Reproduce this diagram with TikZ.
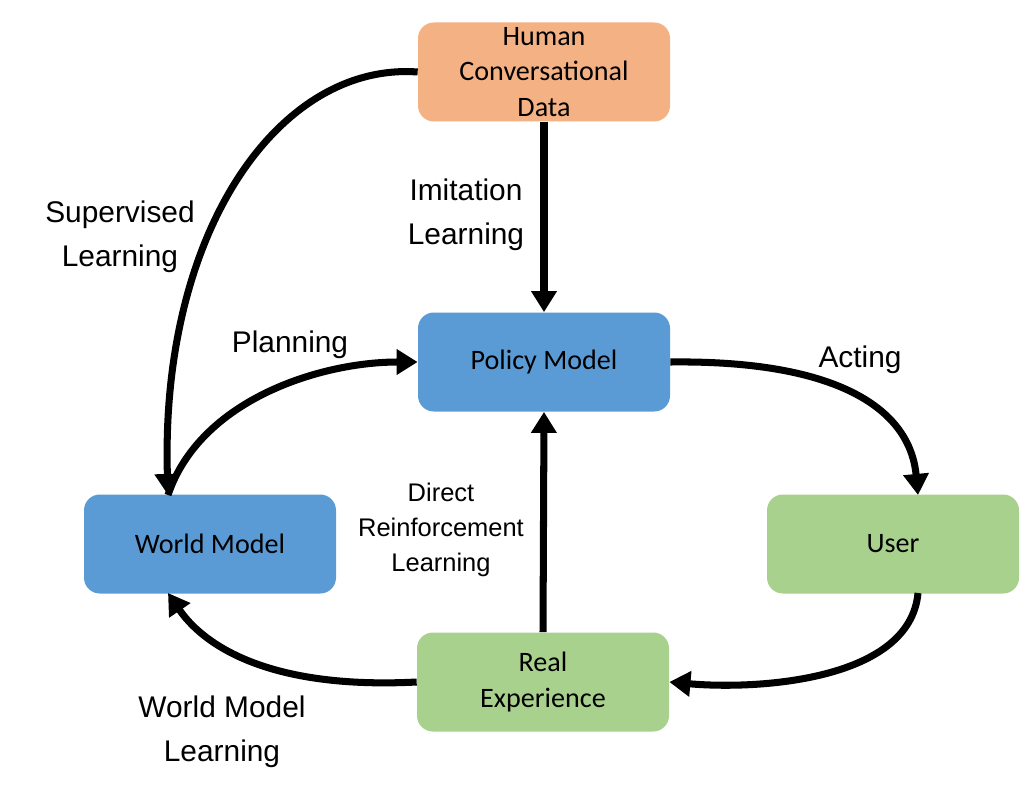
\documentclass[tikz,border=0pt]{standalone}
\usepackage{fontspec}
\setmainfont{Liberation Sans}
\newfontfamily\calib{Carlito}
\usetikzlibrary{arrows.meta}
\definecolor{orng}{HTML}{F4B183}
\definecolor{blu}{HTML}{5B9BD5}
\definecolor{grn}{HTML}{A9D18E}
\begin{document}
\begin{tikzpicture}[x=0.02cm,y=-0.02cm,
  box/.style={rounded corners=9pt,minimum width=252*0.02cm,minimum height=99*0.02cm,align=center,font=\calib\fontsize{16}{20}\selectfont,inner sep=1pt},
  arr/.style={line width=4pt,-{Triangle[length=12pt,width=14pt]}},
  lab/.style={align=center,font=\fontsize{17}{25}\selectfont}]
\useasboundingbox (0,0) rectangle (1020,797);
\node[box,fill=orng] (h) at (544,72) {Human\\Conversational\\Data};
\node[box,fill=blu] (p) at (544,362) {Policy Model};
\node[box,fill=blu] (w) at (210,544) {World Model};
\node[box,fill=grn] (u) at (893,544) {User};
\node[box,fill=grn] (r) at (543,682) {Real\\Experience};
\draw[arr] (h.south) -- (p.north);
\draw[arr] (h.west) .. controls (280,62) and (160,230) .. (168,495);
\draw[arr] (168,495) .. controls (200,400) and (320,362) .. (p.west);
\draw[arr] (p.east) .. controls (840,360) and (910,410) .. (918,495);
\draw[arr] (918,593) .. controls (910,680) and (760,690) .. (r.east);
\draw[arr] (r.west) .. controls (260,690) and (200,640) .. (168,593);
\draw[arr] (r.north) -- (p.south);
\node[lab] (l1) at (120,237) {Supervised\\Learning};
\node[lab] (l2) at (466,215) {Imitation\\Learning};
\node[lab] (l3) at (290,345) {Planning};
\node[lab] (l4) at (860,360) {Acting};
\node[align=center,font=\fontsize{14.5}{20}\selectfont] (l5) at (441,530) {Direct\\Reinforcement\\Learning};
\node[lab] (l6) at (222,732) {World Model\\Learning};
\end{tikzpicture}
\end{document}
